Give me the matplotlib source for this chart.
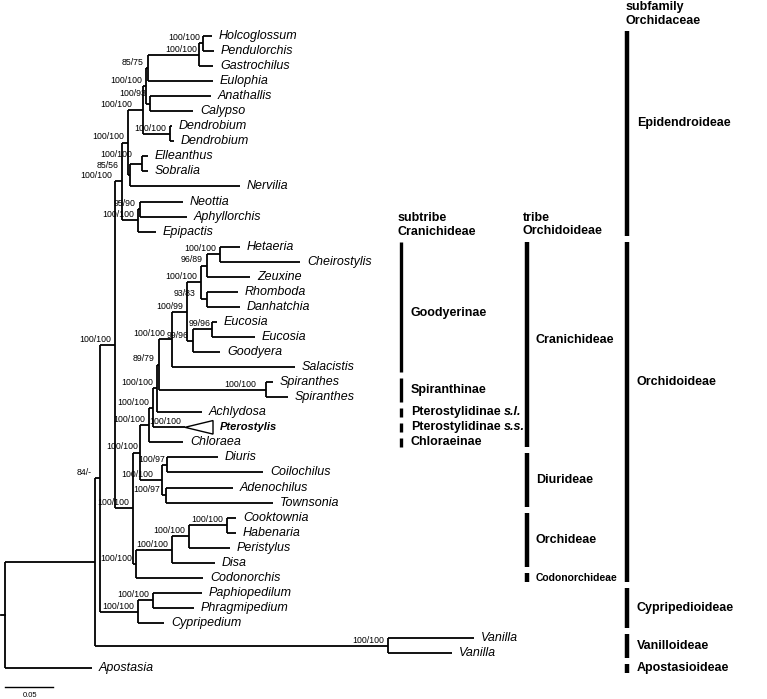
import matplotlib.pyplot as plt
from matplotlib.patches import Polygon

# ---- tree data (depth = distance from root, subst./site) ----
leaf_names = ["Holcoglossum", "Pendulorchis", "Gastrochilus", "Eulophia", "Anathallis", "Calypso",
              "Dendrobium", "Dendrobium", "Elleanthus", "Sobralia", "Nervilia", "Neottia",
              "Aphyllorchis", "Epipactis", "Hetaeria", "Cheirostylis", "Zeuxine", "Rhomboda",
              "Danhatchia", "Eucosia", "Eucosia", "Goodyera", "Salacistis", "Spiranthes",
              "Spiranthes", "Achlydosa", "Pterostylis", "Chloraea", "Diuris", "Coilochilus",
              "Adenochilus", "Townsonia", "Cooktownia", "Habenaria", "Peristylus", "Disa",
              "Codonorchis", "Paphiopedilum", "Phragmipedium", "Cypripedium", "Vanilla",
              "Vanilla", "Apostasia"]
leaf_parent = ["HP", "HP", "HPG", "HPGE", "AC", "AC", "Dend", "Dend", "ES", "ES", "ESN", "NA",
               "NA", "NAE", "HC", "HC", "HCZ", "RD", "RD", "EE", "EE", "EEG", "Good", "Spir",
               "Spir", "GSA", "Ptero", "Cran", "DC", "DC", "AT", "AT", "CH", "CH", "CHP", "CHPD",
               "OC", "PP", "PP", "PPC", "Van", "Van", "root"]
leaf_depth = [0.2156, 0.2177, 0.2167, 0.2167, 0.2146, 0.1958, 0.1740, 0.1760, 0.1490, 0.1490,
              0.2448, 0.1854, 0.1896, 0.1573, 0.2448, 0.3073, 0.2552, 0.2427, 0.2448, 0.2208,
              0.2604, 0.2240, 0.3021, 0.2792, 0.2948, 0.2052, 0.2167, 0.1854, 0.2219, 0.2688,
              0.2375, 0.2792, 0.2406, 0.2406, 0.2344, 0.2188, 0.2063, 0.2052, 0.1969, 0.1656,
              0.4885, 0.4656, 0.0906]
collapsed = ["Pterostylis"]

node_names = ["root", "ingroup", "n84", "EO", "Epid", "E2", "HPGEACD", "HPGEAC", "HPGE", "HPG",
              "HP", "AC", "Dend", "ESN", "ES", "NAE", "NA", "Orch", "CD", "Cran", "CranA", "GSA",
              "GS", "Good", "GoodA", "HCZRD", "HCZ", "HC", "RD", "EEG", "EE", "Spir", "Ptero",
              "Diur", "DC", "AT", "OC", "CHPD", "CHP", "CH", "PPC", "PP", "Van"]
node_parent = [None, "root", "ingroup", "n84", "EO", "Epid", "E2", "HPGEACD", "HPGEAC", "HPGE",
               "HPG", "HPGEAC", "HPGEACD", "E2", "ESN", "Epid", "NAE", "EO", "Orch", "CD", "Cran",
               "CranA", "GSA", "GS", "Good", "GoodA", "HCZRD", "HCZ", "HCZRD", "GoodA", "EEG",
               "GS", "CranA", "CD", "Diur", "Diur", "Orch", "OC", "CHPD", "CHP", "n84", "PPC",
               "ingroup"]
node_depth = [0.0, 0.0938, 0.0990, 0.1146, 0.1219, 0.1281, 0.1438, 0.1469, 0.1490, 0.2021,
              0.2063, 0.1510, 0.1719, 0.1302, 0.1427, 0.1385, 0.1406, 0.1333, 0.1406, 0.1500,
              0.1542, 0.1583, 0.1604, 0.1740, 0.1896, 0.2042, 0.2104, 0.2240, 0.2104, 0.1958,
              0.2156, 0.2719, 0.1875, 0.1635, 0.1688, 0.1677, 0.1365, 0.1740, 0.1917, 0.2313,
              0.1385, 0.1542, 0.3990]
node_support = ["", "", "84/-", "100/100", "100/100", "100/100", "100/100", "100/100", "85/75",
                "100/100", "100/100", "100/93", "100/100", "85/56", "100/100", "100/100", "95/90",
                "100/100", "100/100", "100/100", "100/100", "100/100", "89/79", "100/100",
                "100/99", "100/100", "96/89", "100/100", "93/83", "99/96", "99/96", "100/100",
                "100/100", "100/100", "100/97", "100/97", "100/100", "100/100", "100/100",
                "100/100", "100/100", "100/100", "100/100"]

# ---- classification columns (first leaf, last leaf) ----
subfamilies = [("Epidendroideae", 0, 13), ("Orchidoideae", 14, 36), ("Cypripedioideae", 37, 39),
               ("Vanilloideae", 40, 41), ("Apostasioideae", 42, 42)]
tribes = [("Cranichideae", 14, 27), ("Diurideae", 28, 31), ("Orchideae", 32, 35),
          ("Codonorchideae", 36, 36)]
subtribes = [("Goodyerinae", 14, 22, ""), ("Spiranthinae", 23, 24, ""),
             ("Pterostylidinae", 25, 25, "s.l."), ("Pterostylidinae", 26, 26, "s.s."),
             ("Chloraeinae", 27, 27, "")]
scale_len = 0.05

# ---- layout ----
depth = dict(zip(node_names, node_depth))
children = {n: [] for n in node_names}
for n, p in zip(node_names, node_parent):
    if p is not None:
        children[p].append(("node", n))
for i, p in enumerate(leaf_parent):
    children[p].append(("leaf", i))

ypos = {}


def node_y(n):
    if n not in ypos:
        ys = [c if k == "leaf" else node_y(c) for k, c in children[n]]
        ypos[n] = (min(ys) + max(ys)) / 2
    return ypos[n]


fig = plt.figure(figsize=(7.67, 6.99), dpi=100)
ax = fig.add_axes([0, 0, 1, 1])
ax.set_xlim(-0.0052, 0.7938)
ax.set_ylim(44.05, -2.39)
ax.axis("off")

lw = 1.3
for n in node_names:
    x = depth[n]
    ys = []
    for kind, c in children[n]:
        if kind == "leaf":
            cy, cx = c, leaf_depth[c]
            if leaf_names[c] in collapsed:
                ax.add_patch(Polygon([(x, cy), (cx, cy - 0.45), (cx, cy + 0.45)], closed=True,
                                     fill=False, ec="black", lw=1.0))
            else:
                ax.plot([x, cx], [cy, cy], color="black", lw=lw, solid_capstyle="butt")
        else:
            cy = node_y(c)
            ax.plot([x, depth[c]], [cy, cy], color="black", lw=lw, solid_capstyle="butt")
        ys.append(cy)
    if len(ys) > 1:
        ax.plot([x, x], [min(ys), max(ys)], color="black", lw=lw, solid_capstyle="butt")
ax.plot([-0.0045, 0], [node_y("root")] * 2, color="black", lw=lw)

# support values sit above-left of their node; a few are pushed aside
sup_font = ["Liberation Sans Narrow", "Liberation Sans"]
sup_dx = {"HPGEACD": -5, "ES": -4, "ESN": -5, "Epid": -4, "RD": -5, "Spir": -4,
          "n84": -3, "Diur": -3, "AT": -1, "CD": 2, "EE": 2, "DC": 2, "HPG": 2, "HP": 1,
          "Good": -2}
sup_dy = {"AC": 3, "ESN": 3, "ES": 3}
for n, s in zip(node_names, node_support):
    if s:
        ax.annotate(s, (depth[n], node_y(n)),
                    xytext=(-3 + sup_dx.get(n, 0), 2.2 + sup_dy.get(n, 0)),
                    textcoords="offset points", ha="right", va="baseline", fontsize=6.3,
                    family=sup_font)

for i, name in enumerate(leaf_names):
    if name in collapsed:
        ax.annotate(name, (leaf_depth[i], i), xytext=(5, 0), textcoords="offset points",
                    va="center", fontsize=8, style="italic", weight="bold",
                    family="Liberation Sans")
    else:
        ax.annotate(name, (leaf_depth[i], i), xytext=(5, 0), textcoords="offset points",
                    va="center", fontsize=9, style="italic", family="Liberation Sans")

# scale bar
ax.plot([0, scale_len], [43.26, 43.26], color="black", lw=1.0)
ax.text(scale_len / 2 + 0.001, 43.85, "0.05", ha="center", va="center", fontsize=5.5,
        family="Liberation Sans")

# classification bars
cols = [
    (subfamilies, 0.6479, 0.6583, 3.2, "subfamily\nOrchidaceae", 0.6469, -1.45),
    (tribes, 0.5438, 0.5531, 3.2, "tribe\nOrchidoideae", 0.5396, 12.52),
    (subtribes, 0.4125, 0.4229, 2.4, "subtribe\nCranichideae", 0.4094, 12.55),
]
label_nudge = {"Orchidoideae": -2.0, "Epidendroideae": -0.7, "Goodyerinae": 0.4,
               "Cranichideae": -0.3}
for groups, bx, tx, bw, header, hx, hy in cols:
    for g in groups:
        name, a, b = g[0], g[1], g[2]
        ax.plot([bx, bx], [a - 0.3, b + 0.3], color="black", lw=bw, solid_capstyle="butt")
        size = 7.5 if name == "Codonorchideae" else 9
        ly = (a + b) / 2 + label_nudge.get(name, 0)
        t = ax.text(tx, ly, name, va="center", fontsize=size, weight="bold",
                    family="Liberation Sans")
        if len(g) > 3 and g[3]:
            ax.annotate(g[3], xy=(1, 0.5), xycoords=t, xytext=(2.5, 0),
                        textcoords="offset points", va="center", fontsize=size,
                        weight="bold", style="italic", family="Liberation Sans")
    ax.text(hx, hy, header, va="center", ha="left", fontsize=9, weight="bold",
            family="Liberation Sans", linespacing=1.15)

fig.savefig("out.png", dpi=100)
